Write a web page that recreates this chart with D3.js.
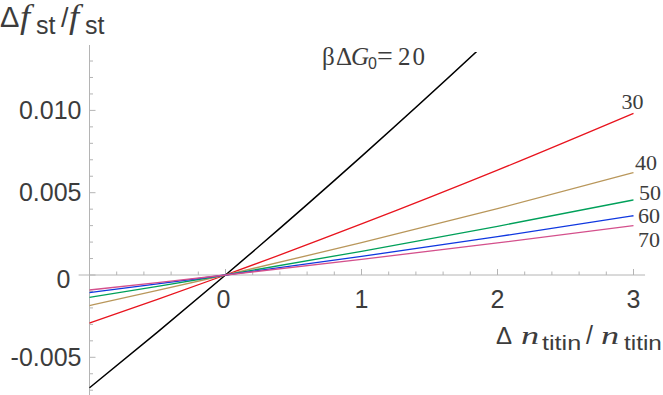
<!DOCTYPE html>
<html>
<head>
<meta charset="utf-8">
<script src="https://cdn.jsdelivr.net/npm/d3@7"></script>
<style>
  html, body { margin: 0; padding: 0; background: #fff; }
  svg { display: block; }
</style>
</head>
<body>
<div id="chart"></div>
<script>
// x sample points (Δn_titin / n_titin)
const X_VALUES = [-1, -0.5, 0, 1, 2, 3];

// Δf_st / f_st for each βΔG0
const G20 = [-0.00685, -0.00347, 0, 0.00721, 0.01476, 0.0227];
const G30 = [-0.00292, -0.00148, 0, 0.00310, 0.00637, 0.00982];
const G40 = [-0.00186, -0.00094, 0, 0.00196, 0.00403, 0.00622];
const G50 = [-0.00136, -0.00069, 0, 0.00144, 0.00296, 0.00456];
const G60 = [-0.00107, -0.00054, 0, 0.00113, 0.00233, 0.00360];
const G70 = [-0.00091, -0.00046, 0, 0.00095, 0.00195, 0.00300];

const SERIES_NAMES = ["20", "30", "40", "50", "60", "70"];
const SERIES_COLORS = ["#000000", "#e8141e", "#b9975b", "#00a05a", "#1038e0", "#d4508c"];

const X_MAJOR = [0, 1, 2, 3];
const Y_MAJOR = [-0.005, 0, 0.005, 0.010];
const Y_LABELS = ["-0.005", "0", "0.005", "0.010"];

const width = 663, height = 395;

const svg = d3.select("#chart").append("svg")
  .attr("width", width)
  .attr("height", height);

const x = d3.scaleLinear().domain([-1, 3]).range([89.5, 633.5]);
const y = d3.scaleLinear().domain([-0.005, 0.010]).range([357.3, 110.4]);

const axisColor = "#b4b4b4";
const textColor = "#3c3c3c";

// ---- clip for the curves ----
svg.append("clipPath").attr("id", "plotclip")
  .append("rect")
  .attr("x", x(-1) - 1).attr("y", 52)
  .attr("width", x(3) - x(-1) + 4).attr("height", height - 52);

// ---- axes ----
const axes = svg.append("g");

axes.append("line")
  .attr("x1", x(-1.08)).attr("x2", x(3.085))
  .attr("y1", y(0)).attr("y2", y(0))
  .attr("stroke", axisColor).attr("stroke-width", 1);

axes.append("line")
  .attr("x1", x(-1)).attr("x2", x(-1))
  .attr("y1", 45).attr("y2", height)
  .attr("stroke", axisColor).attr("stroke-width", 1);

// x ticks (inward / upward)
const xMinor = d3.range(-0.8, 3.01, 0.2).map(v => Math.round(v * 10) / 10);
axes.selectAll("line.xt")
  .data(xMinor)
  .enter().append("line")
  .attr("class", "xt")
  .attr("x1", d => x(d)).attr("x2", d => x(d))
  .attr("y1", y(0))
  .attr("y2", d => y(0) - (Number.isInteger(d) ? 6 : 3.5))
  .attr("stroke", axisColor).attr("stroke-width", 1);

// y ticks (inward / rightward)
const yMinor = d3.range(-7, 14, 1).map(v => v / 1000);
axes.selectAll("line.yt")
  .data(yMinor)
  .enter().append("line")
  .attr("class", "yt")
  .attr("x1", x(-1))
  .attr("x2", d => x(-1) + (Math.round(d * 1000) % 5 === 0 ? 6 : 3.5))
  .attr("y1", d => y(d)).attr("y2", d => y(d))
  .attr("stroke", axisColor).attr("stroke-width", 1);

// tick labels
const tickFont = "Liberation Sans, Arial, sans-serif";

axes.selectAll("text.xl")
  .data(X_MAJOR)
  .enter().append("text")
  .attr("class", "xl")
  .attr("x", d => x(d) + (d === 0 ? -2 : 0))
  .attr("y", y(0) + 33)
  .attr("text-anchor", "middle")
  .attr("font-family", tickFont)
  .attr("font-size", 25)
  .attr("fill", textColor)
  .text(d => d);

axes.selectAll("text.yl")
  .data(Y_MAJOR)
  .enter().append("text")
  .attr("class", "yl")
  .attr("x", (d, i) => Y_LABELS[i] === "0" ? 70.5 : 81.5)
  .attr("y", d => y(d) + (d === 0 ? 4 : 0))
  .attr("dy", "0.35em")
  .attr("text-anchor", "end")
  .attr("font-family", tickFont)
  .attr("font-size", 25)
  .attr("fill", textColor)
  .text((d, i) => Y_LABELS[i]);

// ---- curves ----
const allSeries = [G20, G30, G40, G50, G60, G70];

const line = d3.line()
  .x((d, i) => x(X_VALUES[i]))
  .y(d => y(d))
  .curve(d3.curveMonotoneX);

svg.append("g")
  .attr("clip-path", "url(#plotclip)")
  .selectAll("path")
  .data(allSeries)
  .enter().append("path")
  .attr("d", d => line(d))
  .attr("fill", "none")
  .attr("stroke", (d, i) => SERIES_COLORS[i])
  .attr("stroke-width", (d, i) => i === 0 ? 1.5 : 1.3);

// ---- curve labels ----
const serif = "Liberation Serif, Times New Roman, serif";

const g20 = svg.append("text")
  .attr("y", 65)
  .attr("font-family", serif)
  .attr("font-size", 25)
  .attr("fill", textColor);
g20.append("tspan").attr("x", 322).text("β");
g20.append("tspan").attr("x", 336).text("Δ");
g20.append("tspan").attr("x", 351).attr("font-style", "italic").text("G");
g20.append("tspan").attr("x", 368).attr("font-size", 16).attr("dy", 4).attr("font-family", tickFont).text("0");
g20.append("tspan").attr("x", 377).attr("dy", -4).attr("font-size", 28).text("=");
g20.append("tspan").attr("x", 398).attr("letter-spacing", 2).text(SERIES_NAMES[0]);

const rightLabels = [
  { name: SERIES_NAMES[1], lx: 621.5, ly: 108.5 },
  { name: SERIES_NAMES[2], lx: 635,   ly: 170 },
  { name: SERIES_NAMES[3], lx: 639,   ly: 200 },
  { name: SERIES_NAMES[4], lx: 638,   ly: 223 },
  { name: SERIES_NAMES[5], lx: 638,   ly: 246.5 }
];

svg.selectAll("text.rl")
  .data(rightLabels)
  .enter().append("text")
  .attr("class", "rl")
  .attr("x", d => d.lx).attr("y", d => d.ly)
  .attr("font-family", serif)
  .attr("font-size", 22)
  .attr("fill", textColor)
  .text(d => d.name);

// ---- axis titles ----
// pieces: [text, x, baseline y, font, size, italic, x-stretch]
function drawTitle(pieces) {
  pieces.forEach(p => {
    svg.append("text")
      .attr("transform", `translate(${p[1]},${p[2]}) scale(${p[6]},1)`)
      .attr("font-family", p[3])
      .attr("font-size", p[4])
      .attr("font-style", p[5] ? "italic" : "normal")
      .attr("fill", textColor)
      .text(p[0]);
  });
}

drawTitle([
  ["Δ",  0,  27,   tickFont, 29, false, 1],
  ["f",  20, 28,   serif,    33, true,  1.1],
  ["st", 36, 33.5, tickFont, 25, false, 1],
  ["/",  61, 27,   tickFont, 27, false, 1],
  ["f",  69, 28,   serif,    33, true,  1.1],
  ["st", 85, 33.5, tickFont, 25, false, 1]
]);

drawTitle([
  ["Δ",     496,   344, tickFont, 24, false, 1],
  ["n",     521,   344, serif,    25, true,  1.45],
  ["titin", 542,   350, tickFont, 21, false, 1.2],
  ["/",     586,   344, tickFont, 25, false, 1],
  ["n",     601,   344, serif,    25, true,  1.45],
  ["titin", 624,   350, tickFont, 21, false, 1.16]
]);
</script>
</body>
</html>
